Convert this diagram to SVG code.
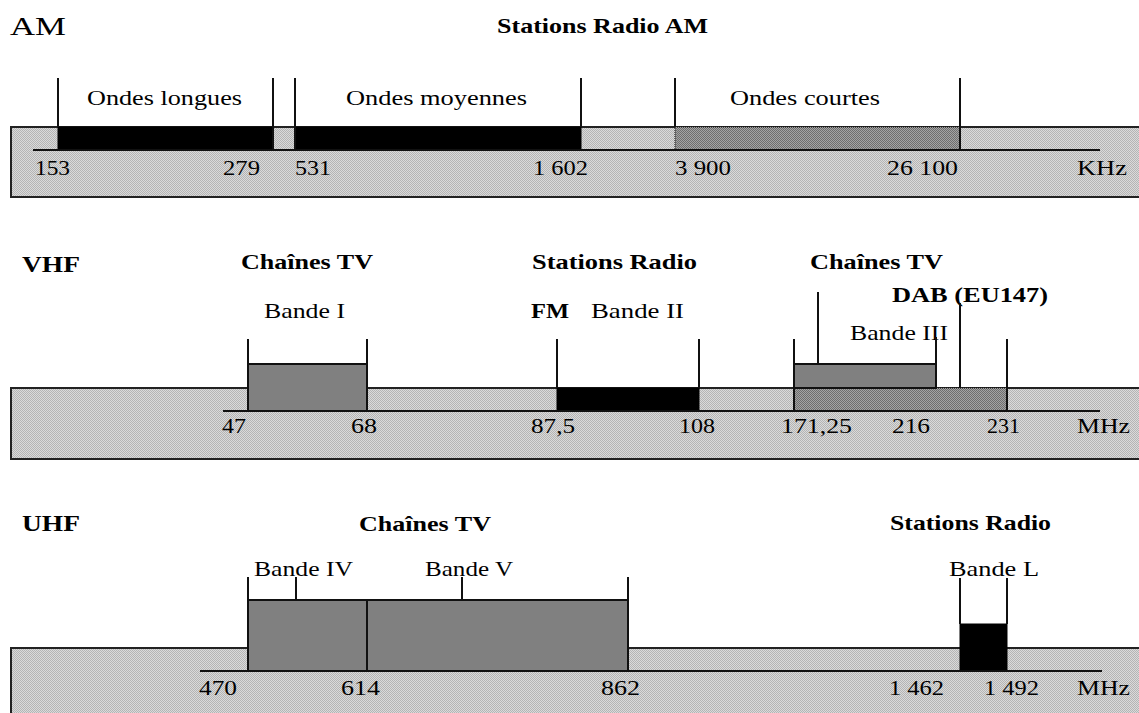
<svg xmlns="http://www.w3.org/2000/svg" width="1139" height="713" viewBox="0 0 1139 713">
<defs>
<pattern id="lt" width="2" height="2" patternUnits="userSpaceOnUse"><rect width="2" height="2" fill="#dadada"/><rect width="1" height="1" fill="#b4b4b4"/><rect x="1" y="1" width="1" height="1" fill="#b4b4b4"/></pattern>
<pattern id="dk" width="2" height="2" patternUnits="userSpaceOnUse"><rect width="2" height="2" fill="#a4a4a4"/><rect width="1" height="1" fill="#6e6e6e"/><rect x="1" y="1" width="1" height="1" fill="#6e6e6e"/></pattern>
</defs>
<style>
text{font-family:"Liberation Serif","Times New Roman",serif;fill:#000}
.t{font-size:22px}
.b{font-size:21px;font-weight:bold}
.h{font-size:26px}
.hb{font-size:24px;font-weight:bold}
.bar{fill:url(#lt);stroke:#222;stroke-width:2}
.blk{fill:#000;stroke:#000;stroke-width:1}
.gry{fill:#808080;stroke:#111;stroke-width:2}
.dot{fill:url(#dk);stroke:#111;stroke-width:1;stroke-dasharray:1 1}
.ln{stroke:#111;stroke-width:2;fill:none}
</style>
<rect width="1139" height="713" fill="#fff"/>

<g id="am">
<rect class="bar" x="11" y="127" width="1140" height="70"/>
<text class="h" x="10" y="35" textLength="56" lengthAdjust="spacingAndGlyphs">AM</text>
<text class="b" x="497" y="33" textLength="211" lengthAdjust="spacingAndGlyphs">Stations Radio AM</text>
</g>
<g id="am-lw">
<rect class="blk" x="58" y="127" width="215" height="23"/>
<text class="t" x="87" y="105" textLength="155" lengthAdjust="spacingAndGlyphs">Ondes longues</text>
</g>
<g id="am-mw">
<rect class="blk" x="295" y="127" width="286" height="23"/>
<text class="t" x="346" y="105" textLength="181" lengthAdjust="spacingAndGlyphs">Ondes moyennes</text>
</g>
<g id="am-sw">
<rect class="dot" x="675" y="127" width="285" height="23"/>
<text class="t" x="730" y="105" textLength="150" lengthAdjust="spacingAndGlyphs">Ondes courtes</text>
</g>
<g id="am-scale">
<text class="t" x="35" y="175" textLength="35" lengthAdjust="spacingAndGlyphs">153</text>
<text class="t" x="223" y="175" textLength="37" lengthAdjust="spacingAndGlyphs">279</text>
<text class="t" x="295" y="175" textLength="36" lengthAdjust="spacingAndGlyphs">531</text>
<text class="t" x="533" y="175" textLength="55" lengthAdjust="spacingAndGlyphs">1 602</text>
<text class="t" x="675" y="175" textLength="56" lengthAdjust="spacingAndGlyphs">3 900</text>
<text class="t" x="887" y="175" textLength="71" lengthAdjust="spacingAndGlyphs">26 100</text>
<text class="t" x="1077" y="175" textLength="50" lengthAdjust="spacingAndGlyphs">KHz</text>
</g>

<g id="vhf">
<rect class="bar" x="11" y="388" width="1140" height="71"/>
<text class="hb" x="22" y="272" textLength="58" lengthAdjust="spacingAndGlyphs">VHF</text>
</g>
<g id="vhf-b1">
<rect class="gry" x="248" y="364" width="119" height="47"/>
<text class="b" x="241" y="269" textLength="132" lengthAdjust="spacingAndGlyphs">Chaînes TV</text>
<text class="t" x="264" y="318" textLength="81" lengthAdjust="spacingAndGlyphs">Bande I</text>
</g>
<g id="vhf-fm">
<rect class="blk" x="557" y="388" width="142" height="23"/>
<text class="b" x="532" y="269" textLength="165" lengthAdjust="spacingAndGlyphs">Stations Radio</text>
<text class="b" x="531" y="318" textLength="38" lengthAdjust="spacingAndGlyphs">FM</text>
<text class="t" x="591" y="318" textLength="93" lengthAdjust="spacingAndGlyphs">Bande II</text>
</g>
<g id="vhf-b3">
<rect class="dot" x="794" y="388" width="213" height="23"/>
<rect class="gry" x="794" y="364" width="142" height="24"/>
<text class="b" x="810" y="269" textLength="133" lengthAdjust="spacingAndGlyphs">Chaînes TV</text>
<text class="t" x="850" y="340" textLength="98" lengthAdjust="spacingAndGlyphs">Bande III</text>
</g>
<g id="vhf-dab">
<text class="b" x="892" y="302" textLength="156" lengthAdjust="spacingAndGlyphs">DAB (EU147)</text>
</g>
<g id="vhf-scale">
<text class="t" x="222" y="433" textLength="24" lengthAdjust="spacingAndGlyphs">47</text>
<text class="t" x="351" y="433" textLength="26" lengthAdjust="spacingAndGlyphs">68</text>
<text class="t" x="531" y="433" textLength="44" lengthAdjust="spacingAndGlyphs">87,5</text>
<text class="t" x="679" y="433" textLength="36" lengthAdjust="spacingAndGlyphs">108</text>
<text class="t" x="781" y="433" textLength="71" lengthAdjust="spacingAndGlyphs">171,25</text>
<text class="t" x="892" y="433" textLength="38" lengthAdjust="spacingAndGlyphs">216</text>
<text class="t" x="987" y="433" textLength="33" lengthAdjust="spacingAndGlyphs">231</text>
<text class="t" x="1077" y="433" textLength="53" lengthAdjust="spacingAndGlyphs">MHz</text>
</g>

<g id="uhf">
<rect class="bar" x="11" y="648" width="1140" height="80"/>
<text class="hb" x="22" y="531" textLength="58" lengthAdjust="spacingAndGlyphs">UHF</text>
</g>
<g id="uhf-tv">
<rect class="gry" x="248" y="600" width="380" height="71"/>
<text class="b" x="359" y="531" textLength="132" lengthAdjust="spacingAndGlyphs">Chaînes TV</text>
<text class="t" x="254" y="576" textLength="99" lengthAdjust="spacingAndGlyphs">Bande IV</text>
<text class="t" x="425" y="576" textLength="88" lengthAdjust="spacingAndGlyphs">Bande V</text>
</g>
<g id="uhf-l">
<rect class="blk" x="960" y="624" width="47" height="47"/>
<text class="b" x="890" y="530" textLength="161" lengthAdjust="spacingAndGlyphs">Stations Radio</text>
<text class="t" x="949" y="576" textLength="90" lengthAdjust="spacingAndGlyphs">Bande L</text>
</g>
<g id="uhf-scale">
<text class="t" x="199" y="695" textLength="38" lengthAdjust="spacingAndGlyphs">470</text>
<text class="t" x="341" y="695" textLength="39" lengthAdjust="spacingAndGlyphs">614</text>
<text class="t" x="601" y="695" textLength="39" lengthAdjust="spacingAndGlyphs">862</text>
<text class="t" x="889" y="695" textLength="55" lengthAdjust="spacingAndGlyphs">1 462</text>
<text class="t" x="984" y="695" textLength="55" lengthAdjust="spacingAndGlyphs">1 492</text>
<text class="t" x="1077" y="695" textLength="53" lengthAdjust="spacingAndGlyphs">MHz</text>
</g>

<g id="connectors">
<path class="ln" d="M33 150H1100M58 78V127M273 78V150M295 78V150M581 78V127M675 78V127M960 78V150"/>
<path class="ln" d="M223 411H1100M248 339V411M367 339V411M557 339V388M699 339V388M794 339V411M818 292V364M936 337V388M960 303V388M1007 339V411"/>
<path class="ln" d="M200 671H1102M248 577V600M628 577V600M296 577V600M462 577V600M367 600V671M960 578V624M1007 578V624"/>
</g>
</svg>
